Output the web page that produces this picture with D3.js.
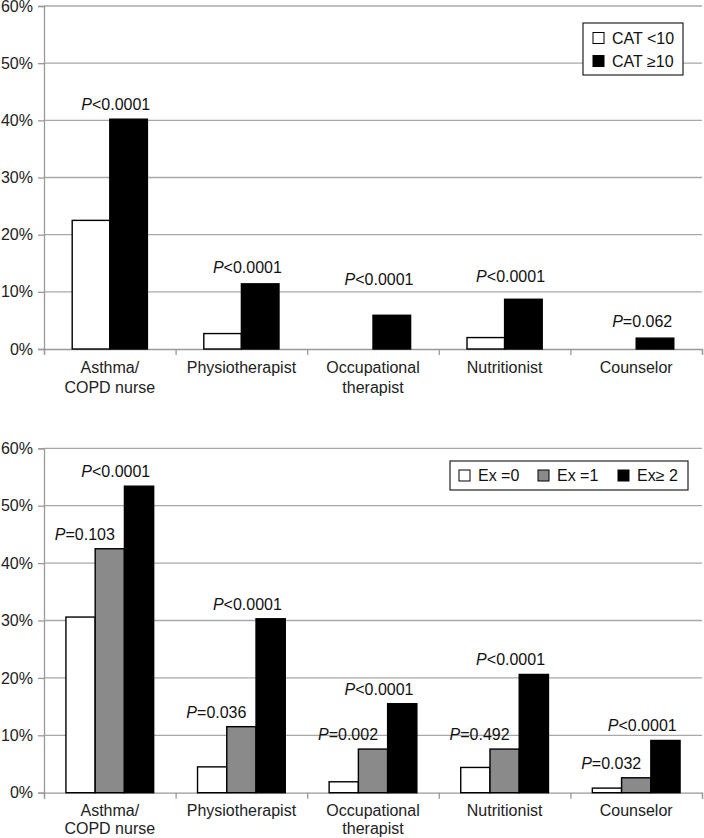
<!DOCTYPE html>
<html>
<head>
<meta charset="utf-8">
<script src="https://cdn.jsdelivr.net/npm/d3@7"></script>
<style>
  body { margin: 0; background: #fff; }
  svg { display: block; font-family: "Liberation Sans", Arial, sans-serif; }
</style>
</head>
<body>
<svg id="chart" width="704" height="838"></svg>
<script>
// categories shared by both panels
const categories = [
  ["Asthma/", "COPD nurse"],
  ["Physiotherapist"],
  ["Occupational", "therapist"],
  ["Nutritionist"],
  ["Counselor"]
];
const yTicks = [0, 10, 20, 30, 40, 50, 60];

// top panel: CAT score
const catSeries = ["CAT <10", "CAT \u226510"];
const catLow = [22.5, 2.7, 0, 2.0, 0];
const catHigh = [40.2, 11.4, 5.9, 8.7, 1.9];
const catP = ["<0.0001", "<0.0001", "<0.0001", "<0.0001", "=0.062"];

// bottom panel: exacerbations
const exSeries = ["Ex =0", "Ex =1", "Ex\u2265 2"];
const ex0 = [30.6, 4.5, 1.9, 4.4, 0.8];
const ex1 = [42.5, 11.5, 7.6, 7.6, 2.6];
const ex2 = [53.4, 30.3, 15.5, 20.6, 9.1];
const exP1 = ["=0.103", "=0.036", "=0.002", "=0.492", "=0.032"];
const exP2 = ["<0.0001", "<0.0001", "<0.0001", "<0.0001", "<0.0001"];

const svg = d3.select("#chart");
const left = 44, right = 702;
const fontSize = 16;

const x = d3.scaleBand()
  .domain(d3.range(categories.length))
  .range([left, right])
  .padding(0);

function drawPanel(opts) {
  const y = d3.scaleLinear().domain([0, 60]).range([opts.bottom, opts.top]);
  const g = svg.append("g");

  // gridlines
  g.append("g")
    .selectAll("line")
    .data(yTicks.filter(t => t > 0))
    .join("line")
    .attr("x1", left).attr("x2", right)
    .attr("y1", d => y(d)).attr("y2", d => y(d))
    .attr("stroke", "#a8a8a8")
    .attr("stroke-width", 1.3);

  // y axis
  const yAxis = g.append("g")
    .attr("transform", `translate(${left},0)`)
    .call(d3.axisLeft(y).tickValues(yTicks).tickSize(6).tickPadding(5).tickFormat(d => d + "%"));
  yAxis.select(".domain").attr("stroke", "#999").attr("stroke-width", 1.3);
  yAxis.selectAll(".tick line").attr("stroke", "#999").attr("stroke-width", 1.3);
  yAxis.selectAll("text").attr("font-size", fontSize).attr("fill", "#222")
    .attr("font-family", "Liberation Sans, Arial, sans-serif");

  // x axis with boundary ticks
  const xb = d3.scaleLinear().domain([0, categories.length]).range([left, right]);
  const xAxis = g.append("g")
    .attr("transform", `translate(0,${opts.bottom})`)
    .call(d3.axisBottom(xb).ticks(categories.length).tickSize(6).tickFormat(""));
  xAxis.select(".domain").attr("stroke", "#999").attr("stroke-width", 1.3);
  xAxis.selectAll(".tick line").attr("stroke", "#999").attr("stroke-width", 1.3);

  // category labels
  g.append("g")
    .selectAll("text")
    .data(categories)
    .join("text")
    .attr("x", (d, i) => x(i) + x.bandwidth() / 2)
    .attr("y", opts.bottom + 18)
    .attr("text-anchor", "middle")
    .attr("font-size", fontSize)
    .attr("fill", "#222")
    .selectAll("tspan")
    .data(d => d)
    .join("tspan")
    .attr("x", function () { return this.parentNode.getAttribute("x"); })
    .attr("dy", (d, i) => i === 0 ? "0.35em" : opts.lineGap)
    .text(d => d);

  // bars
  const xs = d3.scaleBand()
    .domain(d3.range(opts.series.length))
    .range([0, x.bandwidth()])
    .paddingInner(0)
    .paddingOuter(0.75);

  opts.values.forEach((vals, s) => {
    g.append("g")
      .selectAll("rect")
      .data(vals.map((v, i) => ({ v, i })).filter(d => d.v > 0))
      .join("rect")
      .attr("x", d => x(d.i) + xs(s))
      .attr("y", d => y(d.v))
      .attr("width", xs.bandwidth())
      .attr("height", d => y(0) - y(d.v))
      .attr("fill", opts.colors[s])
      .attr("stroke", "#000")
      .attr("stroke-width", 1.4);
  });

  // P value labels
  opts.pLabels.forEach(pl => {
    g.append("g")
      .selectAll("text")
      .data(pl.texts)
      .join("text")
      .attr("x", (d, i) => x(i) + x.bandwidth() / 2 + pl.dx)
      .attr("y", (d, i) => y(opts.values[pl.series][i]) - 9 - (pl.lift ? pl.lift[i] : 0))
      .attr("text-anchor", "middle")
      .attr("font-size", fontSize)
      .attr("fill", "#111")
      .call(t => {
        t.append("tspan").attr("font-style", "italic").text("P");
        t.append("tspan").text(d => d);
      });
  });

  // legend
  const L = opts.legend;
  const lg = g.append("g");
  lg.append("rect")
    .attr("x", L.x).attr("y", L.y)
    .attr("width", L.w).attr("height", L.h)
    .attr("fill", "#fff")
    .attr("stroke", "#222")
    .attr("stroke-width", 1.2);
  const items = lg.selectAll("g.item")
    .data(opts.series)
    .join("g")
    .attr("class", "item")
    .attr("transform", (d, i) => `translate(${L.x + L.itemX[i]},${L.y + L.itemY[i]})`);
  items.append("rect")
    .attr("x", 0).attr("y", -5.5)
    .attr("width", 11).attr("height", 11)
    .attr("fill", (d, i) => opts.colors[i])
    .attr("stroke", "#000")
    .attr("stroke-width", 1);
  items.append("text")
    .attr("x", 19).attr("y", 0)
    .attr("dy", "0.35em")
    .attr("font-size", fontSize)
    .attr("fill", "#111")
    .text(d => d);
}

drawPanel({
  top: 6, bottom: 349,
  series: catSeries,
  values: [catLow, catHigh],
  colors: ["#fff", "#000"],
  lineGap: 20,
  pLabels: [{ texts: catP, series: 1, dx: 6, lift: [0, 2, 21, 8, 2] }],
  legend: { x: 583, y: 23, w: 100, h: 52, itemX: [10, 10], itemY: [15, 38] }
});

drawPanel({
  top: 448.3, bottom: 792.7,
  series: exSeries,
  values: [ex0, ex1, ex2],
  colors: ["#fff", "#8a8a8a", "#000"],
  lineGap: 18,
  pLabels: [
    { texts: exP1, series: 1, dx: -25 },
    { texts: exP2, series: 2, dx: 6 }
  ],
  legend: { x: 450, y: 461, w: 238, h: 29, itemX: [9, 88, 168], itemY: [14.5, 14.5, 14.5] }
});
</script>
</body>
</html>
